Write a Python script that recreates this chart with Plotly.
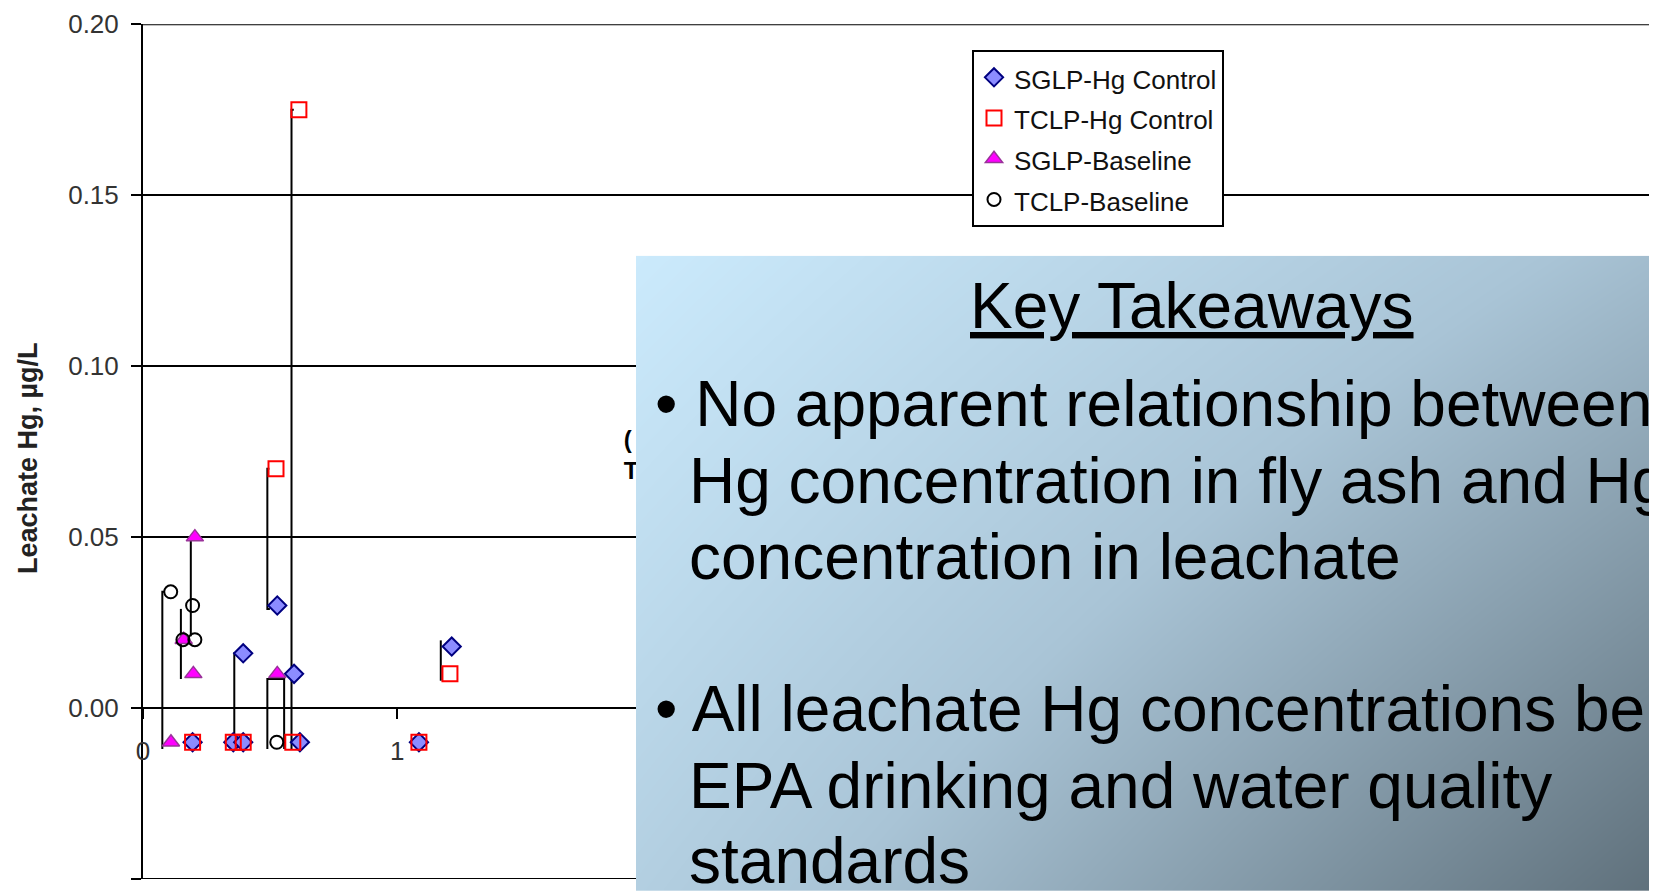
import plotly.graph_objects as go

# the page adds an 8px body margin, so the figure is 8px smaller and all
# pixel positions below are shifted by OFF
OFF = 8
W, H = 1657 - OFF, 891 - OFF

# pixel geometry
PLOT_L, PLOT_T, PLOT_B = 143, 24.3, 879
PX_PER_X = 254.3
BOX_L, BOX_T = 636, 255.7

# leachate Hg results, µg/L (non-detects plotted at -0.01)
sglp_hg_x = [0.195, 0.355, 0.394, 0.394, 0.528, 0.594, 0.617, 1.085, 1.214]
sglp_hg_y = [-0.01, -0.01, -0.01, 0.016, 0.030, 0.010, -0.01, -0.01, 0.018]
tclp_hg_x = [0.195, 0.355, 0.394, 0.523, 0.589, 0.613, 1.085, 1.207]
tclp_hg_y = [-0.01, -0.01, -0.01, 0.070, -0.01, 0.175, -0.01, 0.010]
sglp_base_x = [0.110, 0.160, 0.198, 0.204, 0.528]
sglp_base_y = [-0.01, 0.020, 0.010, 0.050, 0.010]
tclp_base_x = [0.109, 0.157, 0.195, 0.204, 0.526]
tclp_base_y = [0.034, 0.020, 0.030, 0.020, -0.01]

# range lines joining replicate results
range_x = [0.085, 0.076, 0.076, None, 0.188, 0.188, None, 0.149, 0.149, None,
           0.362, 0.359, 0.359, None, 0.497, 0.489, 0.489, 0.499, None,
           0.489, 0.489, 0.555, 0.555, None, 0.593, 0.584, 0.584, None,
           1.171, 1.171]
range_y = [0.034, 0.034, -0.012, None, 0.050, 0.021, None, 0.029, 0.0085, None,
           0.016, 0.016, -0.012, None, 0.070, 0.070, 0.029, 0.029, None,
           -0.012, 0.0085, 0.0085, -0.012, None, 0.175, 0.175, -0.012, None,
           0.0198, 0.008]

y_ticks = [-0.05, 0.0, 0.05, 0.10, 0.15, 0.20]
x_ticks = [0, 1]

title_text = "Key Takeaways"
bullet1 = ["No apparent relationship between",
           "Hg concentration in fly ash and Hg",
           "concentration in leachate"]
bullet2 = ["All leachate Hg concentrations below",
           "EPA drinking and water quality",
           "standards"]


def px(x):
    return (x - OFF) / W


def py(y):
    return 1 - (y - OFF) / H


def leg(name):
    # legend rows are spaced for a 29px font, text drawn at 26px
    return '<span style="font-size:26px">' + name + '</span>'


FONT = "Liberation Sans, Arial, sans-serif"
y_dom = [py(PLOT_B), py(PLOT_T)]
y0_pos = y_dom[0] + (0 - -0.05) / 0.25 * (y_dom[1] - y_dom[0])

fig = go.Figure()

fig.add_trace(go.Scatter(
    x=range_x, y=range_y, mode='lines',
    line=dict(color='black', width=2),
    showlegend=False, hoverinfo='skip',
))
fig.add_trace(go.Scatter(
    x=sglp_hg_x, y=sglp_hg_y, mode='markers', name=leg('SGLP-Hg Control'),
    marker=dict(symbol='diamond', size=14, color='#8c8cff',
                line=dict(color='#000080', width=2)),
))
fig.add_trace(go.Scatter(
    x=tclp_hg_x, y=tclp_hg_y, mode='markers', name=leg('TCLP-Hg Control'),
    marker=dict(symbol='square-open', size=15, color='#ff0000',
                line=dict(color='#ff0000', width=2)),
))
fig.add_trace(go.Scatter(
    x=sglp_base_x, y=sglp_base_y, mode='markers', name=leg('SGLP-Baseline'),
    marker=dict(symbol='triangle-up', size=15, color='#ff00ff',
                line=dict(color='#993399', width=1.5)),
))
fig.add_trace(go.Scatter(
    x=tclp_base_x, y=tclp_base_y, mode='markers', name=leg('TCLP-Baseline'),
    marker=dict(symbol='circle-open', size=13, color='black',
                line=dict(color='black', width=2)),
))
# axis-title fragment that peeks out from behind the text box
fig.add_trace(go.Scatter(
    x=[1.89, 1.89], y=[0.0778, 0.0688], mode='text', text=['(', 'T'],
    textposition='middle right', cliponaxis=False,
    textfont=dict(family=FONT, size=24, color='black', weight='bold'),
    showlegend=False, hoverinfo='skip',
))

# gradient panel for the takeaways box
fig.add_trace(go.Heatmap(
    x=[0, 1], y=[0, 1], z=[[0.32, 1.0], [0.0, 0.5]],
    zmin=0, zmax=1, zsmooth='best', showscale=False, hoverinfo='skip',
    colorscale=[[0, '#cbeafc'], [0.45, '#a9c4d6'], [1, '#5f707b']],
    xaxis='x2', yaxis='y2',
))

for yv in [y_ticks[0], y_ticks[-1]]:
    fig.add_shape(type='line', xref='x domain', yref='y', x0=0, x1=1,
                  y0=yv, y1=yv, line=dict(color='black', width=2),
                  layer='below')

fig.add_annotation(
    x=px(28), y=py(458), xref='paper', yref='paper', textangle=-90,
    xanchor='center', yanchor='middle',
    text='<b>Leachate Hg, µg/L</b>', showarrow=False,
    font=dict(family=FONT, size=27, color='#222'),
)

fig.add_annotation(
    x=px(1192), y=py(328 - 22), xref='paper', yref='paper',
    text='<u>' + title_text + '</u>', showarrow=False,
    xanchor='center', yanchor='middle',
    font=dict(family=FONT, size=64, color='black'),
)

baselines = [426, 503, 579, 731, 808, 883]
lines = bullet1 + bullet2
for i, (txt, base) in enumerate(zip(lines, baselines)):
    first = i in (0, 3)
    fig.add_annotation(
        x=px(653 if first else 687), y=py(base - 22),
        xref='paper', yref='paper',
        text=('• ' + txt) if first else txt, showarrow=False,
        xanchor='left', yanchor='middle',
        font=dict(family=FONT, size=64, color='black'),
    )

fig.update_layout(
    width=W, height=H,
    margin=dict(l=0, r=0, t=0, b=0, autoexpand=False),
    paper_bgcolor='white', plot_bgcolor='white',
    font=dict(family=FONT, color='black'),
    legend=dict(
        x=px(972), y=py(50), xanchor='left', yanchor='top',
        bordercolor='black', borderwidth=2, bgcolor='white',
        font=dict(family=FONT, size=29, color='#111'),
    ),
    xaxis=dict(
        domain=[px(PLOT_L), 1], range=[0, (1657 - PLOT_L) / PX_PER_X],
        anchor='free', position=y0_pos, automargin=False,
        showline=True, linecolor='black', linewidth=2,
        ticks='outside', ticklen=10, tickwidth=2, tickcolor='black',
        tickvals=x_ticks, tickfont=dict(size=26, color='#333'),
        ticklabelstandoff=10, showgrid=False, zeroline=False,
    ),
    yaxis=dict(
        domain=y_dom, range=[-0.05, 0.20], automargin=False,
        tickvals=y_ticks, tickformat='.2f',
        showline=True, linecolor='black', linewidth=2,
        ticks='outside', ticklen=10, tickwidth=2, tickcolor='black',
        tickfont=dict(size=26, color='#333'), ticklabelstandoff=7,
        showgrid=True, gridcolor='black', gridwidth=2, zeroline=False,
    ),
    xaxis2=dict(domain=[px(BOX_L), 1], range=[0, 1], anchor='y2',
                visible=False),
    yaxis2=dict(domain=[0, py(BOX_T)], range=[0, 1], anchor='x2',
                visible=False),
)

fig.write_html("out.html")
